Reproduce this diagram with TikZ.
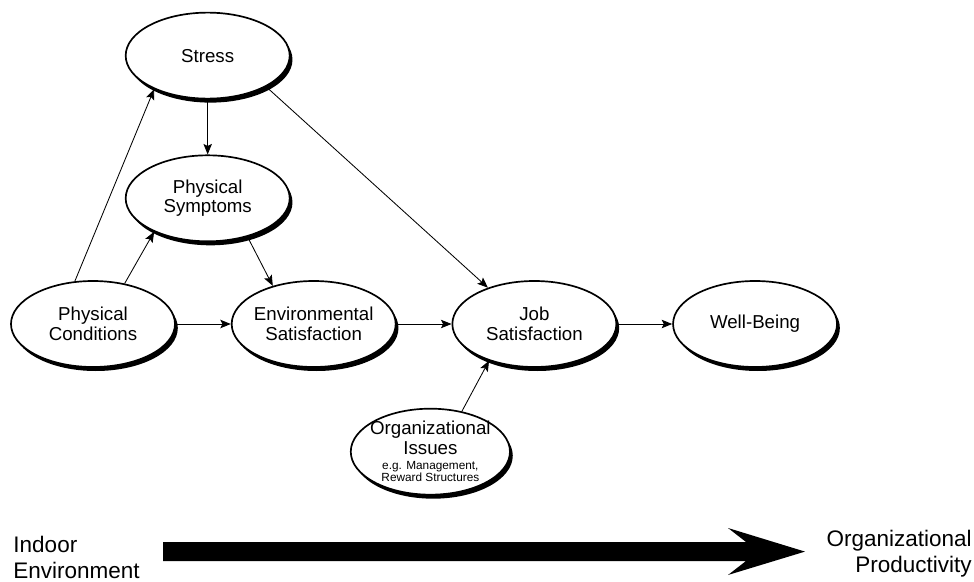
\documentclass[tikz,border=0pt]{standalone}
\usepackage{fontspec}
\setmainfont{Liberation Sans}
\usepackage{tikz}
\usetikzlibrary{shapes.geometric, arrows.meta, positioning, shadows}
\newcommand{\bubblefont}{\fontsize{13.3}{14}\selectfont}
\newcommand{\notefont}{\fontsize{8.4}{9}\selectfont}
\newcommand{\axisfont}{\fontsize{16}{18.4}\selectfont}
\tikzstyle{bubble} = [ellipse, draw=black, line width=1.2pt, fill=white, minimum width=4.1cm, minimum height=2.15cm, inner xsep=-0.1cm, inner ysep=0pt, align=center, font=\bubblefont, drop shadow={shadow xshift=0.07cm, shadow yshift=-0.1cm, fill=black, opacity=1}]
\tikzstyle{link} = [line width=0.6pt, -{Stealth[length=7.5pt, width=6pt, inset=1.5pt]}]
\tikzstyle{axislabel} = [inner sep=0pt, font=\axisfont]

\begin{document}
\begin{tikzpicture}[node distance=1.375cm]
    \useasboundingbox (0,0) rectangle (24.35,-14.55);

    \node (pc) [bubble] at (2.325,-8.1) {Physical\\Conditions};
    \node (es) [bubble, right=of pc] {Environmental\\Satisfaction};
    \node (js) [bubble, right=of es] {Job\\Satisfaction};
    \node (wb) [bubble, right=of js] {Well-Being};
    \node (ps) [bubble, above=0.95cm of es, xshift=-2.65cm] {Physical\\Symptoms};
    \node (stress) [bubble, above=of ps] {Stress};
    \node (org) [bubble, minimum width=3.9cm, below=1cm of js, xshift=-2.6cm] {Organizational\\Issues\\[-3.7pt]{\notefont e.g. Management,}\\[-5pt]{\notefont Reward Structures}};

    \draw [link] (pc.113) -- (stress.212);
    \draw [link] (pc.52) -- (ps.212);
    \draw [link] (stress) -- (ps);
    \draw [link] (ps.316) -- (es.137);
    \draw [link] (stress.332) -- (js.142);
    \draw [link] (pc) -- (es);
    \draw [link] (es) -- (js);
    \draw [link] (js) -- (wb);
    \draw [link] (org.52) -- (js.219);

    % bottom scale
    \node (indoor) [axislabel, anchor=west, align=left] at (0.33,-13.93) {Indoor\\Environment};
    \node (orgprod) [axislabel, anchor=east, align=right] at (24.3,-13.85) {Organizational\\Productivity};
    \fill (4.075,-13.55) -- (18.65,-13.55) -- (18.2,-13.2) -- (20.125,-13.79) -- (18.2,-14.375) -- (18.65,-14.025) -- (4.075,-14.025) -- cycle;
\end{tikzpicture}
\end{document}
